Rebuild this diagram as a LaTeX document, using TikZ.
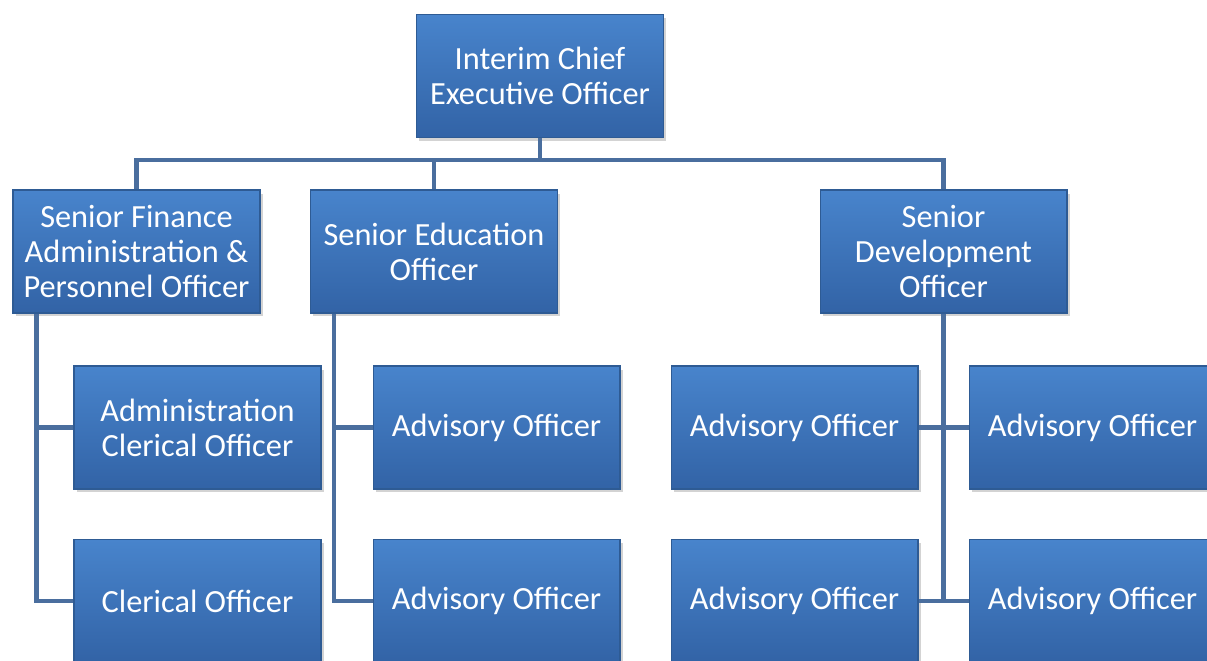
\documentclass[tikz,border=0pt]{standalone}
\usepackage{fontspec}
\setmainfont{Carlito}
\usetikzlibrary{shadows}
\definecolor{boxtop}{HTML}{4884CC}
\definecolor{boxbot}{HTML}{3263A6}
\definecolor{boxedge}{HTML}{2E5B94}
\definecolor{linkcol}{HTML}{4A6E9E}
\tikzset{
  post/.style={rectangle, draw=boxedge, line width=0.6pt, top color=boxtop, bottom color=boxbot,
    minimum width=4.94cm, minimum height=2.46cm, text=white, align=center,
    font=\fontsize{18.4}{20}\selectfont, inner sep=2pt,
    drop shadow={shadow xshift=1.5pt, shadow yshift=-2pt, opacity=0.35}},
  link/.style={draw=linkcol, line width=2.6pt}
}
\begin{document}
\begin{tikzpicture}[x=0.02cm, y=-0.02cm]
\useasboundingbox (0,0) rectangle (1207,661);
\clip (0,0) rectangle (1207,661);
\node[post] (ceo) at (540,76) {Interim Chief\\Executive Officer};
\node[post] (fin) at (136.5,251.5) {Senior Finance\\Administration \&\\Personnel Officer};
\node[post] (edu) at (434,251.5) {Senior Education\\Officer};
\node[post] (dev) at (943.5,251.5) {Senior\\Development\\Officer};
\node[post] (adm) at (197.5,427.5) {Administration\\Clerical Officer};
\node[post] (clk) at (197.5,601) {Clerical Officer};
\node[post] (edu1) at (496.5,427.5) {Advisory Officer};
\node[post] (edu2) at (496.5,601) {Advisory Officer};
\node[post] (dev1) at (794.5,427.5) {Advisory Officer};
\node[post] (dev2) at (794.5,601) {Advisory Officer};
\node[post] (dev3) at (1092.5,427.5) {Advisory Officer};
\node[post] (dev4) at (1092.5,601) {Advisory Officer};

\coordinate (bus) at (540,160);
\coordinate (fbranch) at ([xshift=0.48cm]fin.south west);
\coordinate (ebranch) at ([xshift=0.48cm]edu.south west);

\draw[link] (ceo.south) -- (bus);
\draw[link] (bus) -| (fin.north);
\draw[link] (bus) -| (edu.north);
\draw[link] (bus) -| (dev.north);
\draw[link] (fbranch) |- (adm.west);
\draw[link] (fbranch) |- (clk.west);
\draw[link] (ebranch) |- (edu1.west);
\draw[link] (ebranch) |- (edu2.west);
\draw[link] (dev.south) |- (dev1.east);
\draw[link] (dev.south) |- (dev2.east);
\draw[link] (dev.south) |- (dev3.west);
\draw[link] (dev.south) |- (dev4.west);
\end{tikzpicture}
\end{document}
